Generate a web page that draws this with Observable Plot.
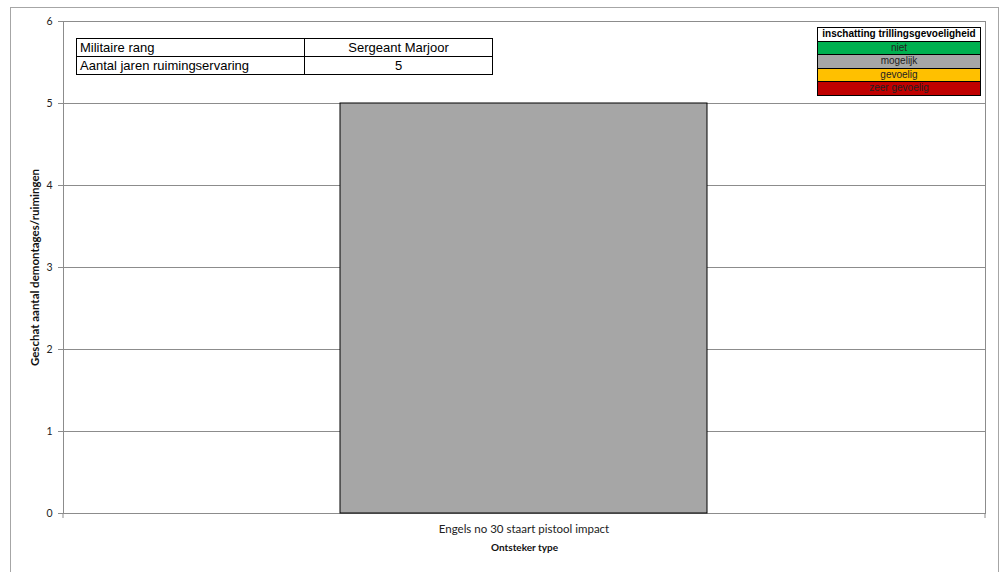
<!DOCTYPE html>
<html>
<head>
<meta charset="utf-8">
<script src="https://cdn.jsdelivr.net/npm/d3@7"></script>
<script src="https://cdn.jsdelivr.net/npm/@observablehq/plot@0.6"></script>
<style>
  html, body { margin: 0; padding: 0; background: #fff; }
  #chart { position: relative; width: 1000px; height: 572px; overflow: hidden; }
  #chart svg { position: absolute; left: 0; top: 0; }
  .info { position: absolute; border-collapse: collapse; font-family: "Liberation Sans", Arial, sans-serif; }
  .info td { border: 1.3px solid #000; padding: 0 3px; height: 17px; line-height: 17px; font-size: 13px; color: #000; }
  .legend { position: absolute; border-collapse: collapse; font-family: "Liberation Sans", Arial, sans-serif; }
  .legend td { border: 1.3px solid #000; text-align: center; font-size: 10px; height: 12.5px; line-height: 12.5px; padding: 0; color: #222; }
</style>
</head>
<body>
<div id="chart"></div>
<script>
// Fuze types and the estimated number of dismantlings per type
const categories = ["Engels no 30 staart pistool impact"];
const counts = [5];
const yTicks = [0, 1, 2, 3, 4, 5, 6];

// Operator details
const infoLabels = ["Militaire rang", "Aantal jaren ruimingservaring"];
const infoValues = ["Sergeant Marjoor", "5"];

// Vibration-sensitivity key
const legendTitle = "inschatting trillingsgevoeligheid";
const legendLabels = ["niet", "mogelijk", "gevoelig", "zeer gevoelig"];
const legendColors = ["#00B050", "#A6A6A6", "#FFC000", "#C00000"];

const data = categories.map((c, i) => ({type: c, count: counts[i]}));
const barColor = legendColors[1];
const gridColor = "#8c8c8c";
const font = "Lato, 'Open Sans', sans-serif";

const plot = Plot.plot({
  width: 1000,
  height: 572,
  marginLeft: 63,
  marginRight: 15,
  marginTop: 21,
  marginBottom: 59,
  style: {fontFamily: font, fontSize: "10px", color: "#222", background: "transparent"},
  x: {domain: categories, padding: 0.43, label: null},
  y: {domain: [0, 6], label: null},
  marks: [
    Plot.gridY(yTicks, {stroke: gridColor, strokeOpacity: 1, strokeWidth: 1}),
    Plot.frame({stroke: gridColor, strokeWidth: 1}),
    Plot.barY(data, {x: "type", y: "count", fill: barColor, stroke: "#000", strokeWidth: 1}),
    Plot.axisY(yTicks, {tickSize: 5, tickPadding: 6, stroke: gridColor, tickFormat: "d", label: null, fontSize: 10.5, fill: "#222"}),
    Plot.axisX({tickSize: 0, tickPadding: 11, label: null, fontSize: 11.5, fill: "#222"}),
    Plot.text(["Geschat aantal demontages/ruimingen"], {
      frameAnchor: "left", dx: -28, rotate: -90, textAnchor: "middle",
      fontWeight: "bold", fontSize: 11.5, fill: "#111"
    }),
    Plot.text(["Ontsteker type"], {
      frameAnchor: "bottom", dy: 37, fontWeight: "bold", fontSize: 10, fill: "#111"
    })
  ]
});

const chart = document.getElementById("chart");
chart.appendChild(plot);

// Outer chart-area border and the category boundary ticks below the x axis
const svg = d3.select(plot);
const xs = plot.scale("x");
const ys = plot.scale("y");
const y0 = ys.apply(0);
svg.insert("rect", ":first-child")
  .attr("x", 10.5).attr("y", 7.5).attr("width", 988).attr("height", 600)
  .attr("fill", "#fff").attr("stroke", "#a6a6a6");
svg.append("g").attr("stroke", gridColor)
  .selectAll("line").data(xs.range).join("line")
  .attr("x1", d => d).attr("x2", d => d)
  .attr("y1", y0).attr("y2", y0 + 5);

// Operator info table
const info = document.createElement("table");
info.className = "info";
info.style.left = "76px";
info.style.top = "38px";
info.style.width = "417px";
infoLabels.forEach((lab, i) => {
  const tr = info.insertRow();
  const a = tr.insertCell(); a.textContent = lab; a.style.width = "221px";
  const b = tr.insertCell(); b.textContent = infoValues[i]; b.style.textAlign = "center";
});
chart.appendChild(info);

// Sensitivity key
const legend = document.createElement("table");
legend.className = "legend";
legend.style.left = "817px";
legend.style.top = "27px";
legend.style.width = "164px";
const head = legend.insertRow().insertCell();
head.textContent = legendTitle;
head.style.fontWeight = "bold";
head.style.color = "#000";
head.style.background = "#fff";
legendLabels.forEach((lab, i) => {
  const c = legend.insertRow().insertCell();
  c.textContent = lab;
  c.style.background = legendColors[i];
});
chart.appendChild(legend);
</script>
</body>
</html>
